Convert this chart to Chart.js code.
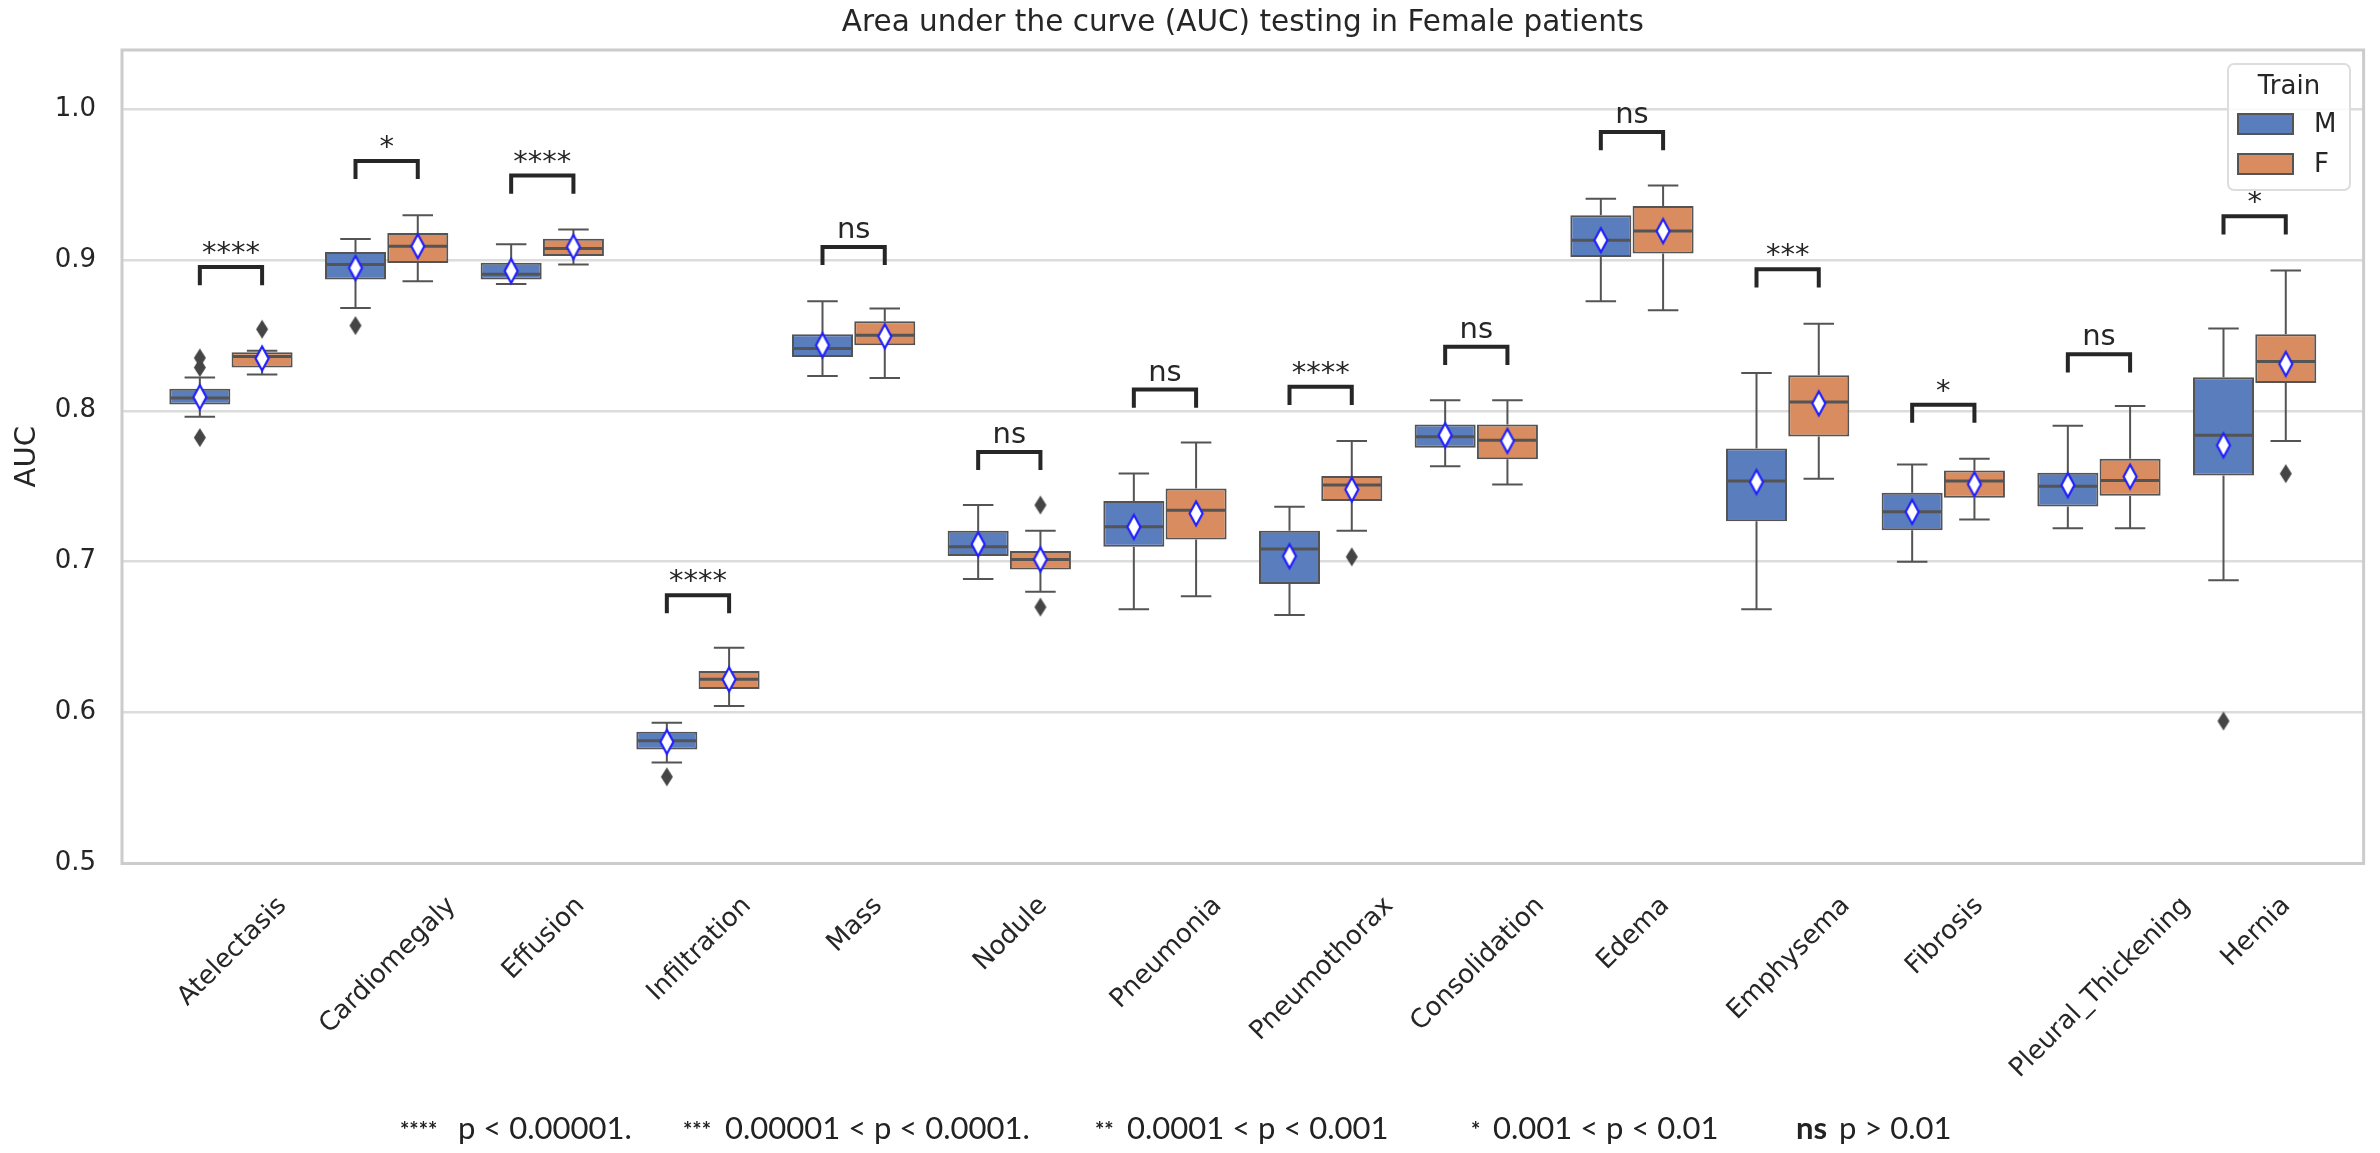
<!DOCTYPE html>
<html>
<head>
<meta charset="utf-8">
<script src="https://cdn.jsdelivr.net/npm/chart.js@4.4.0/dist/chart.umd.min.js"></script>
<style>
html,body{margin:0;padding:0;background:#fff;}
#wrap{position:relative;width:2380px;height:1153px;}
#footer{position:absolute;left:0;top:1112px;width:2380px;height:40px;font-family:Lato,'Open Sans',sans-serif;font-size:31px;color:#222;}
#footer span{position:absolute;top:0;white-space:pre;line-height:31px;}
#footer span.st{font-weight:bold;font-size:22px;top:2px;}
#footer span.ns{font-weight:bold;}
</style>
</head>
<body>
<div id="wrap">
  <canvas id="chart" width="2380" height="1153"></canvas>
  <div id="footer">
    <span class="st" style="left:400px">****</span><span style="left:458px">p &lt; 0.00001.</span>
    <span class="st" style="left:683px">***</span><span style="left:725px">0.00001 &lt; p &lt; 0.0001.</span>
    <span class="st" style="left:1095px">**</span><span style="left:1127px">0.0001 &lt; p &lt; 0.001</span>
    <span class="st" style="left:1471px">*</span><span style="left:1493px">0.001 &lt; p &lt; 0.01</span>
    <span class="ns" style="left:1796px">ns</span><span style="left:1839px">p &gt; 0.01</span>
  </div>
</div>
<script>
/* ===== Data ===== */
const categories = ['Atelectasis','Cardiomegaly','Effusion','Infiltration','Mass','Nodule','Pneumonia',
  'Pneumothorax','Consolidation','Edema','Emphysema','Fibrosis','Pleural_Thickening','Hernia'];
const yTicks = [0.5, 0.6, 0.7, 0.8, 0.9, 1.0];

// Train = M
const mLow  = [0.796, 0.868, 0.884, 0.567, 0.823, 0.6885, 0.6684, 0.6646, 0.7632, 0.8725, 0.6684, 0.700, 0.7222, 0.6877];
const mQ1   = [0.8041, 0.887, 0.8869, 0.5756, 0.8356, 0.7038, 0.7098, 0.6852, 0.7754, 0.9019, 0.7268, 0.7208, 0.7366, 0.757];
const mMed  = [0.8085, 0.8968, 0.8904, 0.5813, 0.8412, 0.7098, 0.7231, 0.7083, 0.7827, 0.9129, 0.7535, 0.733, 0.750, 0.7838];
const mQ3   = [0.8145, 0.9052, 0.8981, 0.5873, 0.8507, 0.7204, 0.7401, 0.7204, 0.7909, 0.9295, 0.775, 0.7457, 0.7589, 0.8222];
const mHigh = [0.822, 0.9138, 0.9103, 0.5932, 0.8725, 0.7375, 0.7584, 0.7363, 0.807, 0.9405, 0.825, 0.7644, 0.790, 0.8544];
const mMean = [0.809, 0.8946, 0.8926, 0.5806, 0.8434, 0.7116, 0.723, 0.7036, 0.7838, 0.913, 0.7528, 0.733, 0.7507, 0.7771];
const mOut  = [[0.7822, 0.8286, 0.835], [0.8564], [], [0.5574], [], [], [], [], [], [], [], [], [], [0.5944]];

// Train = F
const fLow  = [0.824, 0.8858, 0.8968, 0.6043, 0.8217, 0.6801, 0.677, 0.7204, 0.7511, 0.8666, 0.755, 0.728, 0.7222, 0.7799];
const fQ1   = [0.8286, 0.8979, 0.9025, 0.6156, 0.8434, 0.6948, 0.7147, 0.7401, 0.7679, 0.9041, 0.7829, 0.7424, 0.7437, 0.8184];
const fMed  = [0.836, 0.9089, 0.9074, 0.622, 0.850, 0.7015, 0.7341, 0.7507, 0.7805, 0.9191, 0.8058, 0.7535, 0.7538, 0.8326];
const fQ3   = [0.8388, 0.9178, 0.914, 0.6275, 0.8593, 0.7071, 0.7485, 0.7568, 0.7909, 0.9356, 0.8235, 0.7604, 0.7682, 0.8506];
const fHigh = [0.8397, 0.9295, 0.920, 0.6429, 0.8677, 0.7204, 0.7789, 0.780, 0.807, 0.9493, 0.8577, 0.7682, 0.8032, 0.8929];
const fMean = [0.8346, 0.909, 0.9085, 0.622, 0.8493, 0.7015, 0.7319, 0.7478, 0.780, 0.919, 0.8049, 0.7513, 0.7563, 0.831];
const fOut  = [[0.854], [], [], [], [], [0.7375, 0.6699], [], [0.7032], [], [], [], [], [], [0.7583]];

// significance annotations (bracket top in AUC units)
const sigLabels = ['****','*','****','****','ns','ns','ns','****','ns','ns','***','*','ns','*'];
const sigTop    = [0.8952, 0.9655, 0.9558, 0.6778, 0.9085, 0.7727, 0.814, 0.8158, 0.8423, 0.9846, 0.8937, 0.804, 0.8374, 0.9288];

/* ===== Styles ===== */
const LINE = '#545454';
const TEXT = '#262626';
const FONT = "'DejaVu Sans', sans-serif";
Chart.defaults.font.family = FONT;
Chart.defaults.color = TEXT;

const series = [
  {name:'M', low:mLow, q1:mQ1, med:mMed, q3:mQ3, high:mHigh, mean:mMean, out:mOut, color:'#5a7dbe', shift:-0.2},
  {name:'F', low:fLow, q1:fQ1, med:fMed, q3:fQ3, high:fHigh, mean:fMean, out:fOut, color:'#d98c5f', shift:0.2}
];
const BOX_W = 0.392;   // box width in category units

function diamond(w, h, fill, stroke, lw){
  const c = document.createElement('canvas');
  c.width = Math.ceil(w + lw*2 + 2); c.height = Math.ceil(h + lw*2 + 2);
  const g = c.getContext('2d');
  const cx = c.width/2, cy = c.height/2;
  g.beginPath();
  g.moveTo(cx, cy - h/2); g.lineTo(cx + w/2, cy); g.lineTo(cx, cy + h/2); g.lineTo(cx - w/2, cy);
  g.closePath();
  g.fillStyle = fill; g.fill();
  if (stroke){ g.lineWidth = lw; g.strokeStyle = stroke; g.stroke(); }
  return c;
}
const meanMarker = diamond(13, 24, '#ffffff', '#1f1fff', 2.2);
const outMarker  = diamond(12, 19, '#454545', null, 0);

/* ===== Datasets ===== */
const datasets = [];
series.forEach((s, si) => {
  datasets.push({
    type:'bar', label:s.name, seriesIndex:si,
    data: categories.map((c, i) => ({x: i + s.shift, y: [s.q1[i], s.q3[i]]})),
    backgroundColor:s.color, borderColor:LINE, borderWidth:2, borderSkipped:false,
    grouped:false, barPercentage:0.98, categoryPercentage:1, order:3
  });
});
series.forEach(s => {
  const pts = [];
  s.out.forEach((arr, i) => arr.forEach(v => pts.push({x: i + s.shift, y: v})));
  datasets.push({type:'scatter', label:s.name + ' outliers', data:pts, pointStyle:outMarker, pointRadius:8, order:2});
});
series.forEach(s => {
  datasets.push({type:'scatter', label:s.name + ' mean', data:s.mean.map((v, i) => ({x: i + s.shift, y: v})),
    pointStyle:meanMarker, pointRadius:8, order:1});
});

/* ===== Plugin: whiskers, medians, brackets, legend, labels ===== */
const boxParts = {
  id:'boxParts',
  beforeDatasetsDraw(chart){
    const {ctx, chartArea:a} = chart;
    ctx.save();
    ctx.strokeStyle = '#cccccc'; ctx.lineWidth = 3;
    ctx.strokeRect(a.left, a.top, a.right - a.left, a.bottom - a.top);
    ctx.restore();
  },
  afterDatasetDraw(chart, args){
    const ds = chart.data.datasets[args.index];
    if (ds.seriesIndex === undefined) return;
    const s = series[ds.seriesIndex];
    const {ctx} = chart, xs = chart.scales.x, ys = chart.scales.y;
    const half = (xs.getPixelForValue(BOX_W) - xs.getPixelForValue(0)) / 2;
    ctx.save();
    ctx.strokeStyle = LINE; ctx.lineCap = 'butt';
    categories.forEach((c, i) => {
      const cx = xs.getPixelForValue(i + s.shift);
      const yq1 = ys.getPixelForValue(s.q1[i]), yq3 = ys.getPixelForValue(s.q3[i]);
      const ylo = ys.getPixelForValue(s.low[i]), yhi = ys.getPixelForValue(s.high[i]);
      ctx.lineWidth = 2;
      ctx.beginPath();
      ctx.moveTo(cx, yq3); ctx.lineTo(cx, yhi);
      ctx.moveTo(cx - half/2, yhi); ctx.lineTo(cx + half/2, yhi);
      ctx.moveTo(cx, yq1); ctx.lineTo(cx, ylo);
      ctx.moveTo(cx - half/2, ylo); ctx.lineTo(cx + half/2, ylo);
      ctx.stroke();
      ctx.lineWidth = 3;
      const ym = ys.getPixelForValue(s.med[i]);
      ctx.beginPath(); ctx.moveTo(cx - half + 1, ym); ctx.lineTo(cx + half - 1, ym); ctx.stroke();
    });
    ctx.restore();
  },
  afterDatasetsDraw(chart){
    const {ctx} = chart, xs = chart.scales.x, ys = chart.scales.y;
    ctx.save();
    // significance brackets
    ctx.strokeStyle = TEXT; ctx.fillStyle = TEXT; ctx.lineWidth = 4;
    ctx.font = '29px ' + FONT; ctx.textAlign = 'center'; ctx.textBaseline = 'alphabetic';
    sigLabels.forEach((lab, i) => {
      const x1 = xs.getPixelForValue(i + series[0].shift), x2 = xs.getPixelForValue(i + series[1].shift);
      const yt = ys.getPixelForValue(sigTop[i]), yb = ys.getPixelForValue(sigTop[i] - 0.012);
      ctx.beginPath(); ctx.moveTo(x1, yb); ctx.lineTo(x1, yt); ctx.lineTo(x2, yt); ctx.lineTo(x2, yb); ctx.stroke();
      ctx.fillText(lab, (x1 + x2)/2, yt - (lab === 'ns' ? 9 : 5));
    });
    // legend
    const lx = 2228, ly = 64, lw = 122, lh = 126;
    ctx.beginPath(); ctx.roundRect(lx, ly, lw, lh, 6);
    ctx.fillStyle = 'rgba(255,255,255,0.85)'; ctx.fill();
    ctx.strokeStyle = '#dddddd'; ctx.lineWidth = 2; ctx.stroke();
    ctx.fillStyle = TEXT; ctx.font = '26px ' + FONT; ctx.textBaseline = 'middle';
    ctx.textAlign = 'center'; ctx.fillText('Train', lx + lw/2, 87);
    ctx.textAlign = 'left';
    series.forEach((s, si) => {
      const py = 114 + si*40;
      ctx.fillStyle = s.color; ctx.fillRect(2238, py, 55, 20);
      ctx.strokeStyle = LINE; ctx.lineWidth = 2; ctx.strokeRect(2238, py, 55, 20);
      ctx.fillStyle = TEXT; ctx.fillText(s.name, 2314, py + 11);
    });
    ctx.restore();
  },
  afterDraw(chart){
    // rotated category labels, centred under each tick like matplotlib
    const {ctx, chartArea:a} = chart, xs = chart.scales.x;
    const size = 26, asc = 0.928*size, desc = 0.236*size, r = Math.SQRT1_2, pad = 26;
    ctx.save();
    ctx.font = size + 'px ' + FONT; ctx.fillStyle = TEXT;
    ctx.textAlign = 'left'; ctx.textBaseline = 'alphabetic';
    categories.forEach((c, i) => {
      const L = ctx.measureText(c).width;
      const ox = xs.getPixelForValue(i) - r*(L + desc - asc)/2;
      const oy = a.bottom + pad + r*(L + asc);
      ctx.save(); ctx.translate(ox, oy); ctx.rotate(-Math.PI/4);
      ctx.fillText(c, 0, 0); ctx.restore();
    });
    ctx.restore();
  }
};

/* ===== Chart ===== */
new Chart(document.getElementById('chart'), {
  type:'bar',
  data:{ datasets },
  options:{
    responsive:false, animation:false, events:[],
    layout:{ padding:{left:0, right:16.4, top:0, bottom:0} },
    plugins:{
      legend:{display:false}, tooltip:{enabled:false},
      title:{display:true, fullSize:false, text:'Area under the curve (AUC) testing in Female patients',
        color:TEXT, font:{size:29.5, weight:'normal', lineHeight:1.2}, padding:{top:6, bottom:8.6}}
    },
    scales:{
      x:{ type:'linear', min:-0.7, max:13.7, offset:false,
          grid:{display:false}, border:{display:false}, ticks:{display:false},
          afterBuildTicks: s => { s.ticks = categories.map((c, i) => ({value:i})); },
          afterFit: s => { s.height = 289.5; } },
      y:{ min:0.5, max:1.039,
          afterBuildTicks: s => { s.ticks = yTicks.map(v => ({value:v})); },
          afterFit: s => { s.width = 122; },
          grid:{color:'#dcdcdc', lineWidth:2.4, drawTicks:false}, border:{display:false},
          ticks:{padding:26, color:TEXT, font:{size:26}, callback: v => v.toFixed(1)},
          title:{display:true, text:'AUC', color:TEXT, font:{size:29}, padding:{top:10, bottom:0}} }
    }
  },
  plugins:[boxParts]
});
</script>
</body>
</html>
